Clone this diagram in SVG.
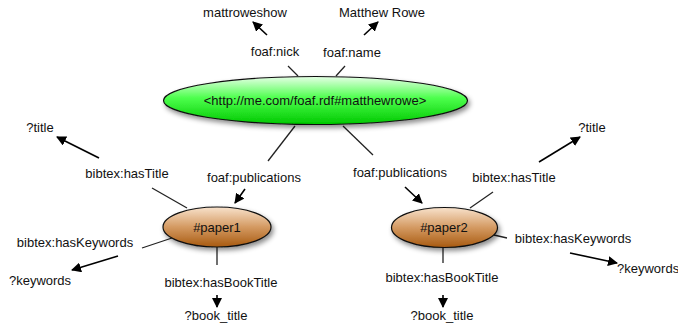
<svg xmlns="http://www.w3.org/2000/svg" width="678" height="325" viewBox="0 0 678 325">
  <defs>
    <linearGradient id="gGreen" x1="0" y1="0" x2="0" y2="1">
      <stop offset="0" stop-color="#e6ffe6"/>
      <stop offset="0.45" stop-color="#4cff4c"/>
      <stop offset="1" stop-color="#00c800"/>
    </linearGradient>
    <linearGradient id="gBrown" x1="0" y1="0" x2="0" y2="1">
      <stop offset="0" stop-color="#f8e2cc"/>
      <stop offset="0.5" stop-color="#d49a62"/>
      <stop offset="1" stop-color="#a85a10"/>
    </linearGradient>
    <filter id="shadow" x="-20%" y="-30%" width="140%" height="170%">
      <feDropShadow dx="2" dy="3" stdDeviation="2.5" flood-color="#000" flood-opacity="0.45"/>
    </filter>
    <marker id="arrow" viewBox="0 0 10 10" refX="9" refY="5" markerWidth="10" markerHeight="10" markerUnits="userSpaceOnUse" orient="auto">
      <path d="M0,0 L10,5 L0,10 z" fill="#000"/>
    </marker>
  </defs>
  <style>
    text { font-family: "Liberation Sans", Arial, sans-serif; font-size: 13px; fill: #111; text-anchor: middle; }
    .edge { stroke: #222; stroke-width: 1.3; fill: none; }
    .arr { stroke: #000; stroke-width: 1.6; fill: none; marker-end: url(#arrow); }
    .node { stroke: #111; stroke-width: 1.2; filter: url(#shadow); }
  </style>

  <!-- connectors: stub line from node to label, then arrow from label to target -->
  <g id="connectors">
    <!-- foaf:nick -->
    <line class="edge" x1="298" y1="76" x2="288" y2="66"/>
    <line class="arr" x1="267" y1="35" x2="253" y2="22"/>
    <!-- foaf:name -->
    <line class="edge" x1="336" y1="76" x2="345" y2="66"/>
    <line class="arr" x1="364" y1="35" x2="378" y2="22"/>
    <!-- foaf:publications (left) -->
    <line class="edge" x1="295" y1="126" x2="268" y2="161"/>
    <line class="arr" x1="245" y1="189" x2="235" y2="203"/>
    <!-- foaf:publications (right) -->
    <line class="edge" x1="343" y1="126" x2="373" y2="155"/>
    <line class="arr" x1="405" y1="187" x2="422" y2="203"/>
    <!-- paper1 bibtex:hasTitle -->
    <line class="edge" x1="187" y1="208" x2="152" y2="188"/>
    <line class="arr" x1="99" y1="158" x2="57" y2="137"/>
    <!-- paper1 bibtex:hasKeywords -->
    <line class="edge" x1="175" y1="237" x2="142" y2="248"/>
    <line class="arr" x1="118" y1="256" x2="72" y2="270"/>
    <!-- paper1 bibtex:hasBookTitle -->
    <line class="edge" x1="217" y1="247" x2="217" y2="265"/>
    <line class="arr" x1="217" y1="295" x2="217" y2="307"/>
    <!-- paper2 bibtex:hasTitle -->
    <line class="edge" x1="470" y1="208" x2="493" y2="192"/>
    <line class="arr" x1="539" y1="162" x2="580" y2="137"/>
    <!-- paper2 bibtex:hasKeywords -->
    <line class="edge" x1="494" y1="235" x2="507" y2="238"/>
    <line class="arr" x1="570" y1="253" x2="617" y2="263"/>
    <!-- paper2 bibtex:hasBookTitle -->
    <line class="edge" x1="443" y1="247" x2="443" y2="263"/>
    <line class="arr" x1="443" y1="295" x2="443" y2="307"/>
  </g>

  <!-- property labels -->
  <g id="labels">
    <text x="275" y="56">foaf:nick</text>
    <text x="352" y="57">foaf:name</text>
    <text x="254" y="182">foaf:publications</text>
    <text x="400" y="177">foaf:publications</text>
    <text x="127" y="178">bibtex:hasTitle</text>
    <text x="75" y="247">bibtex:hasKeywords</text>
    <text x="221" y="287">bibtex:hasBookTitle</text>
    <text x="514" y="182">bibtex:hasTitle</text>
    <text x="573" y="243">bibtex:hasKeywords</text>
    <text x="442" y="282">bibtex:hasBookTitle</text>
  </g>

  <g id="me">
    <ellipse class="node" cx="315.5" cy="100.5" rx="152" ry="24" fill="url(#gGreen)"/>
    <text x="315" y="105">&lt;http://me.com/foaf.rdf#matthewrowe&gt;</text>
  </g>

  <g id="paper1">
    <ellipse class="node" cx="217" cy="227" rx="54" ry="20" fill="url(#gBrown)"/>
    <text x="217" y="232">#paper1</text>
  </g>

  <g id="paper2">
    <ellipse class="node" cx="444.5" cy="227.5" rx="53" ry="20" fill="url(#gBrown)"/>
    <text x="444" y="232">#paper2</text>
  </g>

  <g id="nick"><text x="245" y="17">mattroweshow</text></g>
  <g id="name"><text x="382" y="17">Matthew Rowe</text></g>
  <g id="title1"><text x="40" y="132">?title</text></g>
  <g id="keywords1"><text x="40" y="285">?keywords</text></g>
  <g id="booktitle1"><text x="216" y="320">?book_title</text></g>
  <g id="title2"><text x="592" y="132">?title</text></g>
  <g id="keywords2"><text x="617" y="273" style="text-anchor:start">?keywords</text></g>
  <g id="booktitle2"><text x="442" y="320">?book_title</text></g>
</svg>
